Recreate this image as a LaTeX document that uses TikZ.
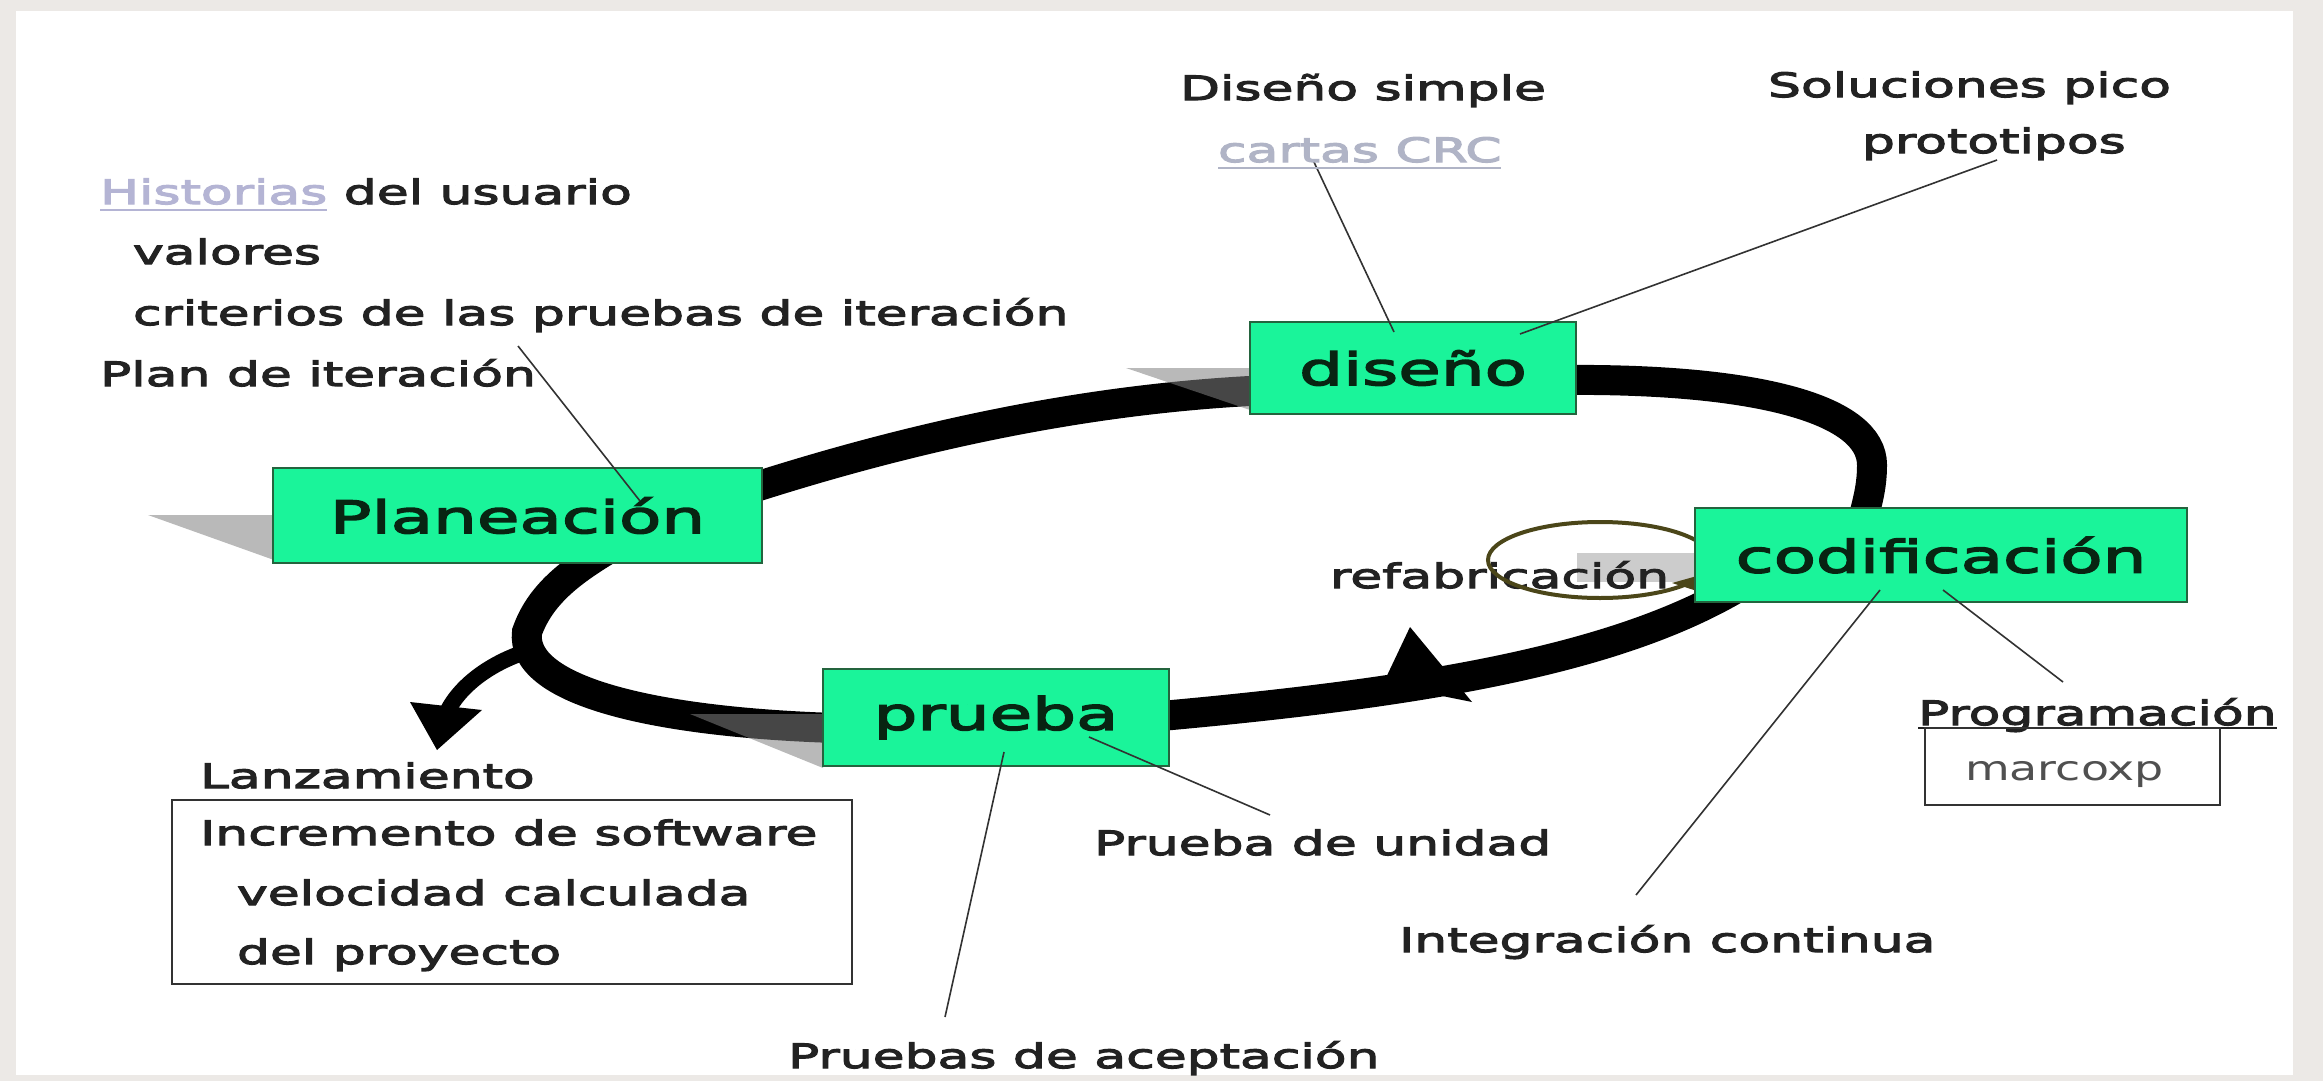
\documentclass[tikz,border=0pt]{standalone}
\usepackage{fontspec}
\setmainfont[FakeStretch=1.55,FakeBold=3.5]{DejaVu Sans}
\newfontfamily\mxfont[FakeStretch=1.35]{DejaVu Sans}
\definecolor{bgframe}{RGB}{236,233,230}
\definecolor{boxfill}{RGB}{26,244,154}
\definecolor{boxborder}{RGB}{36,100,62}
\definecolor{boxtxt}{RGB}{8,36,18}
\definecolor{txt}{RGB}{34,34,34}
\definecolor{lav}{RGB}{180,180,212}
\definecolor{crc}{RGB}{176,180,198}
\definecolor{olivec}{RGB}{75,70,25}
\definecolor{linec}{RGB}{50,50,50}
\definecolor{mxc}{RGB}{80,80,80}
\newcommand\fsmall{\fontsize{33.5}{40}\selectfont}
\newcommand\fbig{\fontsize{44.6}{52}\selectfont}
\begin{document}
\begin{tikzpicture}[x=1pt,y=-1pt,
  lbl/.style={anchor=base west, inner sep=0pt, outer sep=0pt, text=txt, font=\fsmall},
  phase/.style={draw=boxborder, line width=2.2pt, fill=boxfill, text=boxtxt, font=\fbig, inner sep=0pt},
  leader/.style={draw=linec, line width=1.6pt},
  ribbon/.style={draw=black, line width=30pt, line cap=butt},
  branch/.style={draw=black, line width=16pt, line cap=butt},
  shadowov/.style={fill=black!50, fill opacity=0.55},
  plainbox/.style={draw=linec, line width=2pt, inner sep=0pt}
]
\useasboundingbox (0,0) rectangle (2323,1081);
\fill[bgframe] (0,0) rectangle (2323,1081);
\fill[white] (16,11) rectangle (2293,1075);

% ribbon loop
\draw[ribbon] (740,492) .. controls (900,440) and (1080,398) .. (1270,390);
\draw[ribbon] (1560,380) .. controls (1760,378) and (1872,410) .. (1872,465)
              .. controls (1872,490) and (1866,505) .. (1862,525);
\draw[ribbon] (1745,583) .. controls (1620,660) and (1420,693) .. (1150,717);
\draw[ribbon] (835,728) .. controls (650,722) and (520,690) .. (527,632)
              .. controls (540,595) and (570,572) .. (610,548);
% branch to Lanzamiento
\draw[branch] (525,652) .. controls (495,662) and (462,682) .. (447,712);
\coordinate (ah1) at (410,702);
\coordinate (ah2) at (482,710);
\coordinate (ah3) at (437,750);
\fill[black] (ah1) -- (ah2) -- (ah3) -- cycle;
% arrowhead on lower ribbon
\coordinate (ar1) at (1410,627);
\coordinate (ar2) at (1472,702);
\coordinate (ar3) at (1383,684);
\fill[black] (ar1) -- (ar2) -- (ar3) -- cycle;

% shadows
\fill[shadowov] (148,515) -- (274,515) -- (274,560) -- cycle;
\fill[shadowov] (1126,368) -- (1250,368) -- (1250,410) -- cycle;
\fill[shadowov] (690,714) -- (823,714) -- (823,768) -- cycle;
\fill[black!50, fill opacity=0.4] (1577,553) rectangle (1697,582);

% refabricacion
\node[lbl] (refab) at (1330,588) {refabricación};
\draw[olivec, line width=4pt] (1600,560) ellipse [x radius=112, y radius=38];
\coordinate (rm1) at (1672,583);
\coordinate (rm2) at (1697,576);
\coordinate (rm3) at (1697,591);
\fill[olivec] (rm1) -- (rm2) -- (rm3) -- cycle;

% phase boxes
\node[phase, minimum width=489pt, minimum height=95pt] (plan) at (517.5,515.5) {Planeación};
\node[phase, minimum width=326pt, minimum height=92pt] (dis) at (1413,368) {diseño};
\node[phase, minimum width=492pt, minimum height=94pt] (cod) at (1941,555) {codificación};
\node[phase, minimum width=346pt, minimum height=97pt] (prb) at (996,717.5) {prueba};

% leader lines
\coordinate (l1a) at (518,346);  \coordinate (l1b) at (640,501);
\coordinate (l2a) at (1313,160); \coordinate (l2b) at (1394,332);
\coordinate (l3a) at (1997,160); \coordinate (l3b) at (1520,334);
\coordinate (l4a) at (1880,590); \coordinate (l4b) at (1636,895);
\coordinate (l5a) at (1943,590); \coordinate (l5b) at (2063,682);
\coordinate (l6a) at (1004,752); \coordinate (l6b) at (945,1017);
\coordinate (l7a) at (1089,737); \coordinate (l7b) at (1270,815);
\draw[leader] (l1a) -- (l1b);
\draw[leader] (l2a) -- (l2b);
\draw[leader] (l3a) -- (l3b);
\draw[leader] (l4a) -- (l4b);
\draw[leader] (l5a) -- (l5b);
\draw[leader] (l6a) -- (l6b);
\draw[leader] (l7a) -- (l7b);

% texts top-left
\node[lbl, text=lav] (histA) at (100,204) {Historias};
\node[lbl] (histB) at ([xshift=16.5pt]histA.base east) {del usuario};
\draw[lav, line width=2.5pt] ([yshift=-6pt]histA.base west) -- ([yshift=-6pt]histA.base east);
\node[lbl] (val) at (133,264) {valores};
\node[lbl] (crit) at (133,325) {criterios de las pruebas de iteración};
\node[lbl] (pit) at (100,386) {Plan de iteración};

% texts top
\node[lbl] (dsimple) at (1180,100) {Diseño simple};
\node[lbl, text=crc] (ccrc) at (1218,162) {cartas CRC};
\draw[crc, line width=2.5pt] ([yshift=-6pt]ccrc.base west) -- ([yshift=-6pt]ccrc.base east);
\node[lbl] (solp) at (1768,97) {Soluciones pico};
\node[lbl] (proto) at (1862,153) {prototipos};

% right
\node[lbl] (progr) at (1918,725) {Programación};
\draw[txt, line width=2.5pt] ([yshift=-3pt]progr.base west) -- ([yshift=-3pt]progr.base east);
\node[plainbox, minimum width=295pt, minimum height=77pt] (mxbox) at (2072.5,766.5) {};
\node[lbl, text=mxc, font=\mxfont\fontsize{34}{40}\selectfont] (mxp) at (1965,780) {marcoxp};

% bottom
\node[lbl] (punid) at (1094,855) {Prueba de unidad};
\node[lbl] (integ) at (1399,952) {Integración continua};
\node[lbl] (pacep) at (788,1068) {Pruebas de aceptación};

% Lanzamiento
\node[lbl] (lanz) at (200,788) {Lanzamiento};
\node[plainbox, minimum width=680pt, minimum height=184pt] (lbox) at (512,892) {};
\node[lbl] (incr) at (200,845) {Incremento de software};
\node[lbl] (veloc) at (237,905) {velocidad calculada};
\node[lbl] (dproy) at (237,964) {del proyecto};
\end{tikzpicture}
\end{document}
